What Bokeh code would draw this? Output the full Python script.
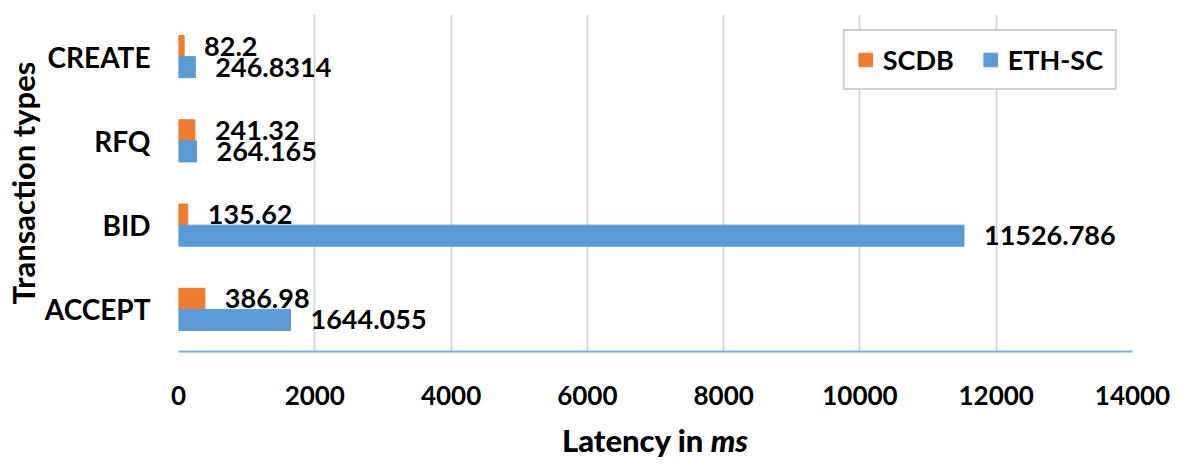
from bokeh.plotting import figure
from bokeh.models import ColumnDataSource, Range1d, FixedTicker, Div
from bokeh.layouts import column
from bokeh.transform import dodge
from bokeh.core.properties import value
from bokeh.embed import file_html
from bokeh.resources import INLINE

categories = ["ACCEPT", "BID", "RFQ", "CREATE"]
scdb = [386.98, 135.62, 241.32, 82.2]
eth_sc = [1644.055, 11526.786, 264.165, 246.8314]
scdb_labels = ["386.98", "135.62", "241.32", "82.2"]
eth_labels = ["1644.055", "11526.786", "264.165", "246.8314"]
x_ticks = [0, 2000, 4000, 6000, 8000, 10000, 12000, 14000]

FONT = "Lato"
ORANGE = "#ED7D31"
BLUE = "#5B9BD5"

src = ColumnDataSource(dict(cat=categories, scdb=scdb, eth=eth_sc,
                            scdb_lab=scdb_labels, eth_lab=eth_labels))

p = figure(width=1173, height=425, y_range=categories, x_range=Range1d(0, 14000),
           output_backend="svg", toolbar_location=None,
           min_border_left=178, min_border_right=41, min_border_top=14, min_border_bottom=74)

p.hbar(y=dodge("cat", 0.125, range=p.y_range), right="scdb", left=0, height=0.25,
       source=src, color=ORANGE, legend_label="SCDB")
p.hbar(y=dodge("cat", -0.125, range=p.y_range), right="eth", left=0, height=0.25,
       source=src, color=BLUE, legend_label="ETH-SC")

p.text(x="scdb", y=dodge("cat", 0.125, range=p.y_range), text="scdb_lab", source=src,
       x_offset=20, text_baseline="middle", text_font=value(FONT), text_font_style="bold",
       text_font_size="27px", text_color="black")
p.text(x="eth", y=dodge("cat", -0.125, range=p.y_range), text="eth_lab", source=src,
       x_offset=20, text_baseline="middle", text_font=value(FONT), text_font_style="bold",
       text_font_size="27px", text_color="black")

p.outline_line_color = None
p.ygrid.grid_line_color = None
p.xgrid.grid_line_color = "#D9D9D9"
p.xgrid.grid_line_width = 2
p.xaxis.ticker = FixedTicker(ticks=x_ticks)

for ax in (p.xaxis, p.yaxis):
    ax.major_tick_line_color = None
    ax.minor_tick_line_color = None
    ax.major_label_text_font = FONT
    ax.major_label_text_font_style = "bold"
    ax.major_label_text_color = "black"

p.xaxis.axis_line_color = "#7FB0DF"
p.xaxis.axis_line_width = 2
p.xaxis.major_label_text_font_size = "26px"
p.xaxis.major_label_standoff = 28
p.yaxis.axis_line_color = None
p.yaxis.major_label_text_font_size = "28px"
p.yaxis.major_label_standoff = 22
p.yaxis.axis_label = "Transaction types"
p.yaxis.axis_label_text_font = FONT
p.yaxis.axis_label_text_font_style = "bold"
p.yaxis.axis_label_text_font_size = "31px"
p.yaxis.axis_label_text_color = "black"
p.yaxis.axis_label_standoff = 0

lg = p.legend[0]
lg.orientation = "horizontal"
lg.location = "top_right"
lg.margin = 15
lg.padding = 12
lg.spacing = 28
lg.label_standoff = 9
lg.glyph_width = 17
lg.glyph_height = 17
lg.label_text_font = FONT
lg.label_text_font_style = "bold"
lg.label_text_font_size = "27px"
lg.label_text_color = "black"
lg.border_line_color = "#A0A0A0"
lg.border_line_width = 2
lg.background_fill_alpha = 1

xtitle = Div(text="<b>Latency in <i>ms</i></b>", width=954, height=30,
             margin=(0, 0, 0, 178),
             styles={"font-family": FONT, "font-size": "31px", "font-weight": "bold",
                     "color": "black", "text-align": "center", "line-height": "1.0",
                     "width": "954px"})

layout = column(p, xtitle, spacing=0)

open("out.html", "w").write(file_html(layout, INLINE))
